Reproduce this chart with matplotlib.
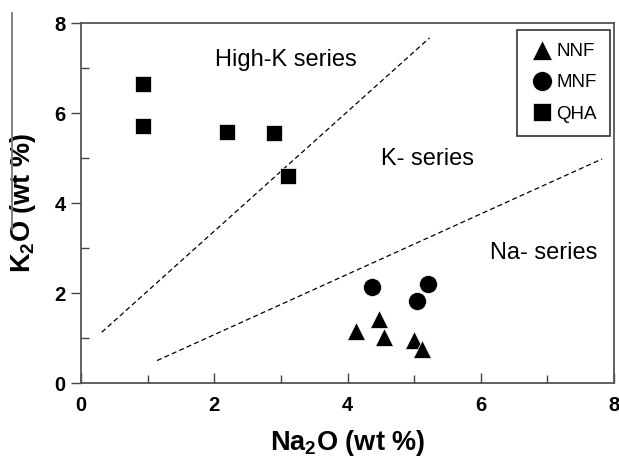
import matplotlib.pyplot as plt
from matplotlib.lines import Line2D
from matplotlib.ticker import MultipleLocator

plt.rcParams['font.family'] = ['Liberation Sans', 'DejaVu Sans']
plt.rcParams['mathtext.fontset'] = 'custom'
plt.rcParams['mathtext.bf'] = 'Liberation Sans:bold'
plt.rcParams['mathtext.rm'] = 'Liberation Sans'

# data
nnf_na = [4.12, 4.47, 4.55, 4.99, 5.11]
nnf_k = [1.15, 1.42, 1.02, 0.95, 0.75]
mnf_na = [4.37, 5.21, 5.04]
mnf_k = [2.13, 2.20, 1.83]
qha_na = [0.93, 0.93, 2.19, 2.90, 3.10]
qha_k = [6.65, 5.71, 5.57, 5.56, 4.60]

# divider lines
highk_x = [0.31, 5.23]
highk_y = [1.13, 7.67]
na_x = [1.14, 7.82]
na_y = [0.50, 4.98]

fig = plt.figure(figsize=(6.19, 4.61), dpi=100)
ax = fig.add_axes([0.131, 0.169, 0.861, 0.781])

ax.plot(highk_x, highk_y, ls=(0, (4, 2.5)), color='black', lw=0.9)
ax.plot(na_x, na_y, ls=(0, (4, 2.5)), color='black', lw=0.9)

ax.plot(nnf_na, nnf_k, '^', color='black', ms=13, mec='white', mew=0.5, label='NNF')
ax.plot(mnf_na, mnf_k, 'o', color='black', ms=13, mec='white', mew=0.5, label='MNF')
ax.plot(qha_na, qha_k, 's', color='black', ms=12, mec='white', mew=0.5, label='QHA')

ax.text(3.08, 7.17, 'High-K series', fontsize=17, ha='center', va='center')
ax.text(5.20, 4.97, 'K- series', fontsize=17, ha='center', va='center')
ax.text(6.95, 2.88, 'Na- series', fontsize=17, ha='center', va='center')

ax.set_xlim(0, 8)
ax.set_ylim(0, 8)
ax.xaxis.set_major_locator(MultipleLocator(2))
ax.yaxis.set_major_locator(MultipleLocator(2))
ax.xaxis.set_minor_locator(MultipleLocator(1))
ax.yaxis.set_minor_locator(MultipleLocator(1))
ax.tick_params(axis='x', which='major', direction='in', length=7, width=1, color='#444', pad=9)
ax.tick_params(axis='y', which='major', direction='out', length=7, width=1, color='#444', pad=4)
ax.tick_params(which='minor', direction='in', length=6, width=1, color='#444')
ax.tick_params(labelsize=14.5)
for lab in ax.get_xticklabels() + ax.get_yticklabels():
    lab.set_fontweight('bold')
for s in ax.spines.values():
    s.set_color('#555')
    s.set_linewidth(1.3)

ax.set_xlabel('Na$_\\mathbf{2}$O (wt %)', fontsize=19.5, fontweight='bold', labelpad=10)
ax.set_ylabel('K$_\\mathbf{2}$O (wt %)', fontsize=19.5, fontweight='bold', labelpad=12)

leg = ax.legend(loc='upper right', bbox_to_anchor=(0.9925, 0.981), fontsize=13.5,
                handletextpad=0.1, borderpad=0.7, labelspacing=0.75, handlelength=1.3,
                markerscale=1.1, fancybox=False, framealpha=1, borderaxespad=0)
leg.get_frame().set_edgecolor('#333')
leg.get_frame().set_linewidth(1.2)

# edge of neighbouring panel visible in the crop
fig.add_artist(Line2D([12 / 619, 12 / 619], [1 - 13 / 461, 1 - 230 / 461], color='#777', lw=1.3))

fig.savefig('out.png', dpi=100)
